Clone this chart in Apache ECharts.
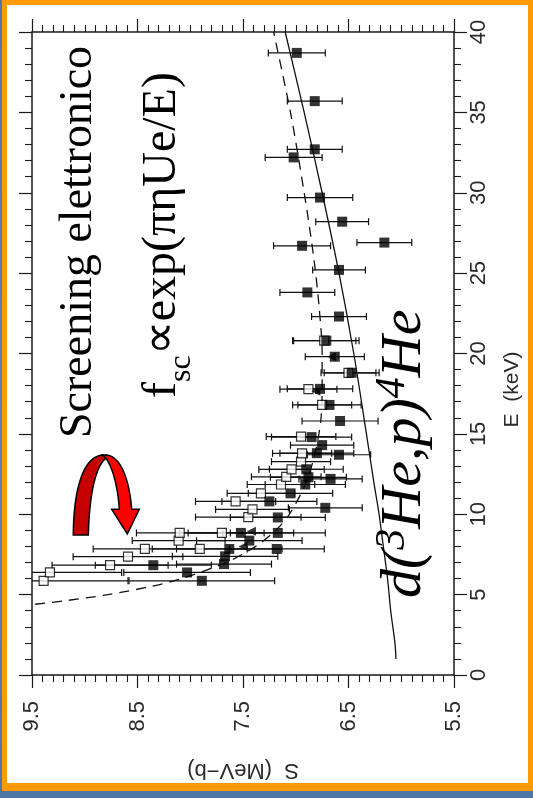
<!DOCTYPE html>
<html>
<head>
<meta charset="utf-8">
<script src="https://cdn.jsdelivr.net/npm/echarts@6/dist/echarts.min.js"></script>
<style>
  html, body { margin: 0; padding: 0; width: 533px; height: 798px; overflow: hidden;
    background: linear-gradient(180deg, #4d78a6 0%, #5a83b0 60%, #4c76a3 100%); }
  #frame { position: absolute; left: 2px; top: 0; width: 521px; height: 778px;
    border: 5px solid #ff9a00; border-bottom-width: 8px; background: #ffffff; }
  #chart { position: absolute; left: 0; top: 0; width: 533px; height: 798px; }
</style>
</head>
<body>
<div id="frame"></div>
<div id="chart"></div>
<script>
// ---- data (S in MeV-b, E in keV, error in MeV-b) ----
const filledS   = [6.99, 6.82, 6.82, 7.02, 6.77, 6.56, 6.16, 6.94, 6.59, 6.89, 6.59, 6.71, 6.63, 6.47, 6.77, 6.68, 6.58, 6.85, 6.75, 6.80, 6.59, 6.90, 6.88, 6.67, 6.91, 7.05, 6.72, 7.25, 7.17, 7.52, 7.17, 7.44, 7.63, 7.18, 7.67, 7.68, 8.35, 8.03, 7.89];
const filledE   = [38.7, 35.7, 32.7, 32.2, 29.7, 28.2, 26.9, 26.7, 25.2, 23.8, 22.3, 20.8, 19.8, 18.8, 17.8, 16.8, 15.8, 14.8, 14.3, 13.8, 13.7, 12.8, 12.3, 12.2, 11.85, 11.3, 10.4, 10.8, 9.8, 8.84, 8.84, 8.36, 7.84, 7.84, 7.38, 6.9, 6.83, 6.38, 5.86];
const filledErr = [0.27, 0.26, 0.26, 0.27, 0.31, 0.25, 0.26, 0.27, 0.25, 0.26, 0.26, 0.31, 0.28, 0.26, 0.31, 0.30, 0.36, 0.38, 0.30, 0.35, 0.30, 0.35, 0.36, 0.30, 0.38, 0.40, 0.35, 0.45, 0.45, 0.50, 0.45, 0.50, 0.50, 0.45, 0.50, 0.45, 0.55, 0.60, 0.69];

const openS   = [9.39, 9.33, 8.76, 8.59, 8.43, 7.91, 8.11, 8.10, 7.70, 7.45, 7.41, 7.57, 7.33, 7.14, 7.09, 7.04, 6.95, 6.94, 6.95, 6.75, 6.88, 6.73, 6.50];
const openE   = [5.86, 6.38, 6.83, 7.36, 7.84, 7.84, 8.36, 8.84, 8.84, 9.82, 10.3, 10.8, 11.3, 11.85, 12.33, 12.79, 13.27, 13.79, 14.83, 16.8, 17.78, 20.8, 18.8];
const openErr = [0.80, 0.68, 0.55, 0.52, 0.49, 0.45, 0.44, 0.41, 0.40, 0.50, 0.35, 0.38, 0.32, 0.32, 0.33, 0.31, 0.28, 0.28, 0.33, 0.28, 0.27, 0.30, 0.26];

const triS = [7.42, 7.50, 6.66, 6.81];
const triE = [8.95, 8.0, 19.8, 17.65];

// bare S-factor (solid) and screened S-factor (dashed)
const solidE = [1, 2, 4, 6, 8, 10, 12, 15, 20, 25, 30, 35, 40];
const solidS = [6.05, 6.06, 6.10, 6.13, 6.17, 6.21, 6.26, 6.33, 6.45, 6.59, 6.75, 6.92, 7.10];
const dashE = [4.4, 4.6, 5, 5.5, 6, 7, 8, 9, 10, 12, 14, 16, 18, 20, 23, 26, 30, 35, 40];
const dashS = [9.47, 9.21, 8.78, 8.38, 8.08, 7.66, 7.38, 7.19, 7.06, 6.90, 6.81, 6.76, 6.75, 6.75, 6.78, 6.83, 6.92, 7.05, 7.21];

const sAxisName = 'S  (MeV\u2212b)';
const eAxisName = 'E  (keV)';

// ---- build ----
const zip3 = (a, b, c) => a.map((v, i) => [v, b[i], c[i]]);
const zip2 = (a, b) => a.map((v, i) => [v, b[i]]);

const axisFont = '"Liberation Sans", Arial, sans-serif';
const serif = '"Liberation Serif", "Times New Roman", serif';
const lineCol = '#1a1a1a';

function errRender(params, api) {
  const s = api.value(0), e = api.value(1), er = api.value(2);
  const p1 = api.coord([s - er, e]);
  const p2 = api.coord([s + er, e]);
  const h = 3.5;
  const st = { stroke: '#111', lineWidth: 1.2 };
  return { type: 'group', children: [
    { type: 'line', shape: { x1: p1[0], y1: p1[1], x2: p2[0], y2: p2[1] }, style: st },
    { type: 'line', shape: { x1: p1[0], y1: p1[1] - h, x2: p1[0], y2: p1[1] + h }, style: st },
    { type: 'line', shape: { x1: p2[0], y1: p2[1] - h, x2: p2[0], y2: p2[1] + h }, style: st }
  ]};
}

function bez(p0, p1, p2, p3, n) {
  const out = [];
  for (let i = 0; i <= n; i++) {
    const t = i / n, u = 1 - t;
    out.push([
      u*u*u*p0[0] + 3*u*u*t*p1[0] + 3*u*t*t*p2[0] + t*t*t*p3[0],
      u*u*u*p0[1] + 3*u*u*t*p1[1] + 3*u*t*t*p2[1] + t*t*t*p3[1]
    ]);
  }
  return out;
}
const darkArm = [].concat(
  bez([73.3, 535], [73.5, 490], [83, 456], [103, 455], 24),
  [[106, 458.3]],
  bez([106, 458.3], [96, 466], [89.5, 492], [88.3, 535], 24)
);
const brightArm = [].concat(
  bez([103, 455], [119, 453], [129, 476], [131.7, 509.3], 24),
  [[139.3, 509.3], [127.3, 534], [111.7, 509.3], [119.3, 509.3]],
  bez([119.3, 509.3], [118, 488], [113, 468], [106, 458.3], 24)
);

function xAx(pos, showLabel) {
  return {
    type: 'value', min: 5.5, max: 9.5, interval: 1, inverse: true, position: pos,
    axisLine: { show: true, onZero: false, lineStyle: { color: lineCol, width: 1.5 } },
    axisTick: { show: true, inside: false, length: 13, lineStyle: { color: lineCol, width: 1.2 } },
    minorTick: { show: true, splitNumber: 10, length: 7, lineStyle: { color: lineCol, width: 1.1 } },
    splitLine: { show: false },
    axisLabel: { show: showLabel, rotate: 90, margin: 26, fontSize: 22, color: '#2a2a2a', fontFamily: axisFont,
      formatter: v => v.toFixed(1) },
    name: showLabel ? sAxisName : '', nameLocation: 'middle', nameGap: 84, nameRotate: 180,
    nameTextStyle: { fontSize: 22, color: '#2a2a2a', fontFamily: axisFont }
  };
}
function yAx(pos, showLabel) {
  return {
    type: 'value', min: 0, max: 40, interval: 5, position: pos,
    axisLine: { show: true, onZero: false, lineStyle: { color: lineCol, width: 1.5 } },
    axisTick: { show: true, inside: false, length: 13, lineStyle: { color: lineCol, width: 1.2 } },
    minorTick: { show: true, splitNumber: 5, length: 7, lineStyle: { color: lineCol, width: 1.1 } },
    splitLine: { show: false },
    axisLabel: { show: showLabel, rotate: 90, margin: 14, fontSize: 22, color: '#2a2a2a', fontFamily: axisFont },
    name: showLabel ? eAxisName : '', nameLocation: 'middle', nameGap: 48, nameRotate: 90,
    nameTextStyle: { fontSize: 21, color: '#2a2a2a', fontFamily: axisFont, padding: [0, 72, 0, 0] }
  };
}

const chart = echarts.init(document.getElementById('chart'), null, { renderer: 'canvas' });
chart.setOption({
  backgroundColor: 'transparent',
  animation: false,
  grid: { left: 32, right: 79, top: 32, bottom: 123, containLabel: false },
  xAxis: [xAx('bottom', true), xAx('top', false)],
  yAxis: [yAx('right', true), yAx('left', false)],
  series: [
    { type: 'line', data: zip2(solidS, solidE), showSymbol: false, smooth: 0.3, clip: true,
      lineStyle: { color: '#111', width: 1.3 }, z: 3 },
    { type: 'line', data: zip2(dashS, dashE), showSymbol: false, smooth: 0.3, clip: true,
      lineStyle: { color: '#111', width: 1.3, type: [10, 7] }, z: 3 },
    { type: 'custom', renderItem: errRender, data: zip3(openS, openE, openErr), clip: true, z: 4 },
    { type: 'custom', renderItem: errRender, data: zip3(filledS, filledE, filledErr), clip: true, z: 4 },
    { type: 'scatter', data: zip2(openS, openE), symbol: 'rect', symbolSize: 9,
      itemStyle: { color: '#fff', borderColor: '#000', borderWidth: 1.2 }, z: 5 },
    { type: 'scatter', data: zip2(filledS, filledE), symbol: 'rect', symbolSize: 10,
      itemStyle: { color: '#000' }, z: 6 },
    { type: 'scatter', data: zip2(triS, triE), symbol: 'triangle', symbolRotate: 90, symbolSize: 9,
      itemStyle: { color: '#000' }, z: 6 }
  ],
  graphic: [
    { type: 'text', x: 79, y: 438, rotation: Math.PI / 2, z: 100,
      style: { text: 'Screening elettronico', font: '46px ' + serif,
        fill: '#000', align: 'left', verticalAlign: 'middle' } },
    { type: 'text', x: 162, y: 398, rotation: Math.PI / 2, z: 100,
      style: { text: '{n|f}{s|sc}{n|\u221Dexp(\u03C0\u03B7Ue/E)}', align: 'left', verticalAlign: 'middle',
        rich: {
          n: { font: '48px ' + serif, fill: '#000', verticalAlign: 'middle' },
          s: { font: '32px ' + serif, fill: '#000', verticalAlign: 'bottom', lineHeight: 72 }
        } } },
    { type: 'text', x: 405, y: 598, rotation: Math.PI / 2, z: 100,
      style: { text: '{m|d(}{u|3}{m|He,p)}{u|4}{m|He}', align: 'left', verticalAlign: 'middle',
        rich: {
          m: { font: 'italic 58px ' + serif, fill: '#000', verticalAlign: 'middle' },
          u: { font: 'italic 42px ' + serif, fill: '#000', verticalAlign: 'top', lineHeight: 66 }
        } } },
    { type: 'polygon', z: 100, shape: { points: darkArm },
      style: { fill: '#c40000', stroke: '#000', lineWidth: 1.5 } },
    { type: 'polygon', z: 100, shape: { points: brightArm },
      style: { fill: '#ff0000', stroke: '#000', lineWidth: 1.5 } }
  ]
});
</script>
</body>
</html>
